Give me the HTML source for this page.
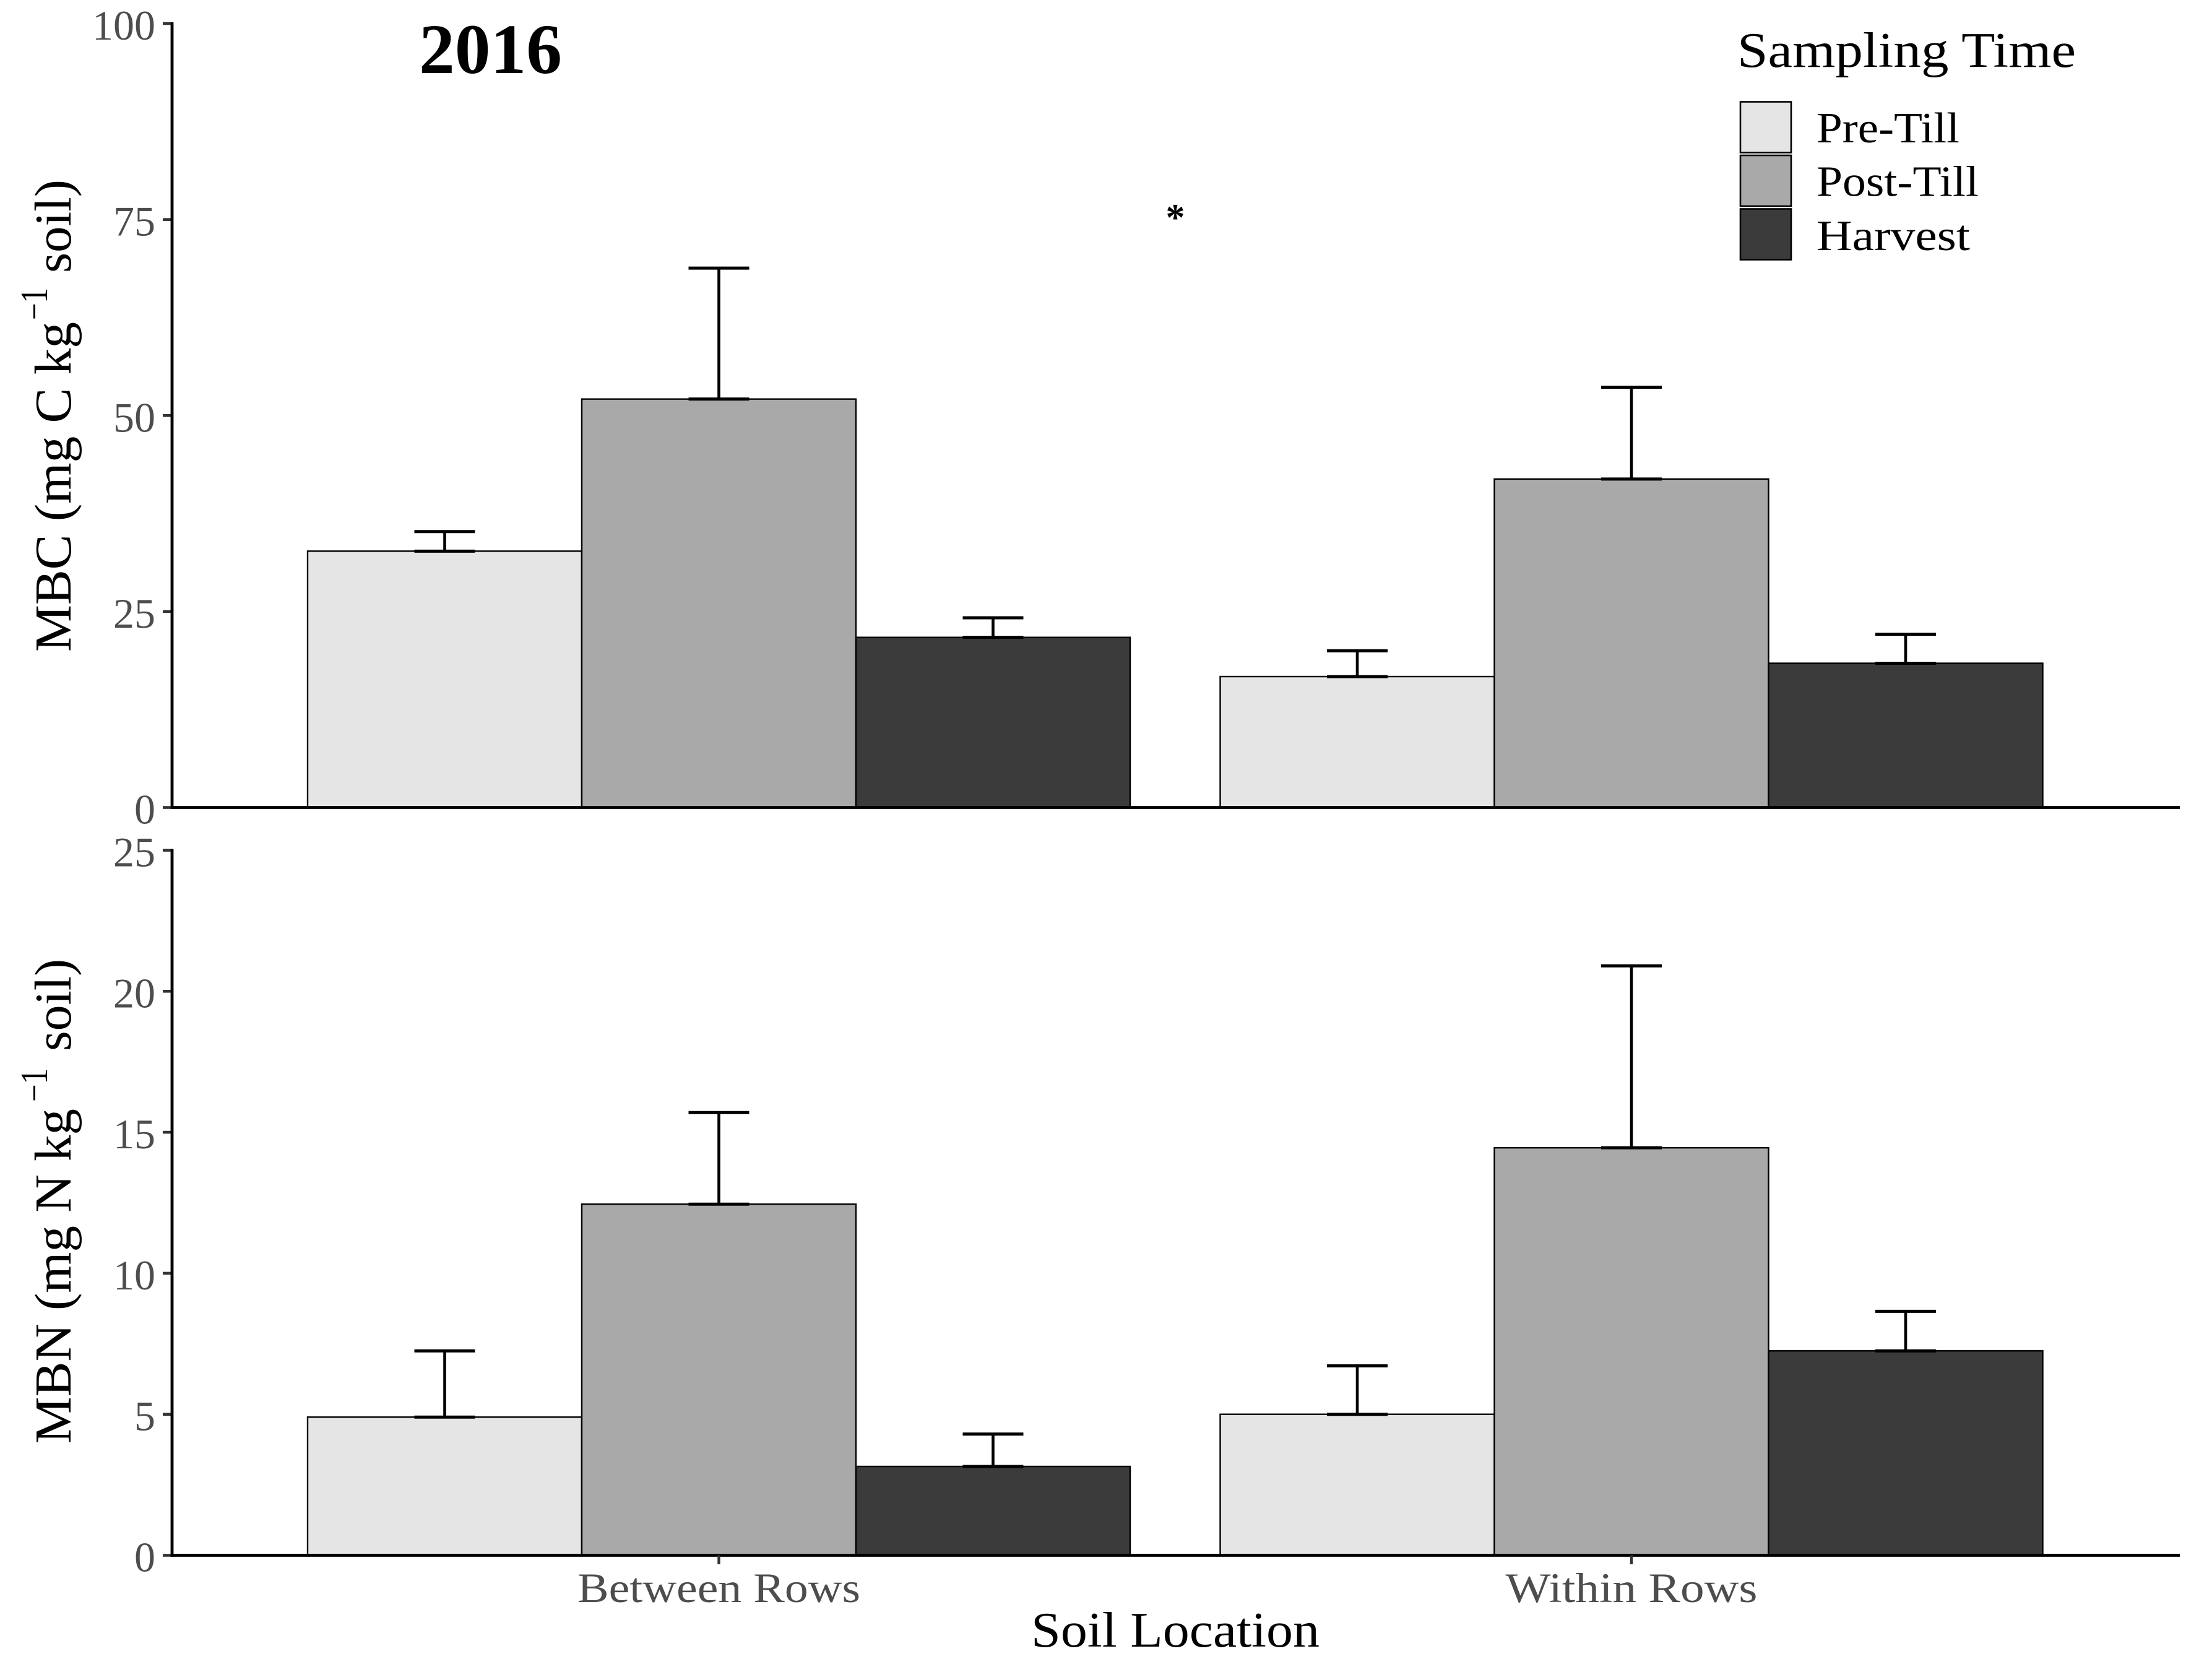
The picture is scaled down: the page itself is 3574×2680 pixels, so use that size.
<!DOCTYPE html>
<html>
<head>
<meta charset="utf-8">
<title>2016 MBC and MBN by soil location</title>
<style>
html,body{margin:0;padding:0;background:#fff;width:3574px;height:2680px;overflow:hidden}
svg{display:block}
text{font-family:"Liberation Serif",serif}
.tick{fill:#4d4d4d;font-size:68px}
.ttl{fill:#000;font-size:80px}
.ytl{fill:#000;font-size:84px}
.leg{fill:#000;font-size:70px}
</style>
</head>
<body>
<svg id="chart" xmlns="http://www.w3.org/2000/svg" width="3574" height="2680" viewBox="0 0 3574 2680">
<rect x="0" y="0" width="3574" height="2680" fill="#ffffff"/>
<g id="marks"></g>
<text x="677" y="118" font-size="114" font-weight="bold" fill="#000" textLength="231" lengthAdjust="spacingAndGlyphs">2016</text>
<text x="1899" y="372" font-size="62" font-weight="bold" fill="#000" text-anchor="middle">*</text>

<g>
<text class="ytl" transform="translate(114 1053) rotate(-90)" textLength="533" lengthAdjust="spacingAndGlyphs">MBC (mg C kg</text>
<text transform="translate(76 517) rotate(-90)" font-size="62" fill="#000" textLength="52" lengthAdjust="spacingAndGlyphs">−1</text>
<text class="ytl" transform="translate(114 441) rotate(-90)" textLength="151" lengthAdjust="spacingAndGlyphs">soil)</text>
</g>
<g>
<text class="ytl" transform="translate(114 2332) rotate(-90)" textLength="541" lengthAdjust="spacingAndGlyphs">MBN (mg N kg</text>
<text transform="translate(76 1780) rotate(-90)" font-size="62" fill="#000" textLength="54" lengthAdjust="spacingAndGlyphs">−1</text>
<text class="ytl" transform="translate(114 1698) rotate(-90)" textLength="149" lengthAdjust="spacingAndGlyphs">soil)</text>
</g>
<text class="ttl" x="1666" y="2660" textLength="466" lengthAdjust="spacingAndGlyphs">Soil Location</text>

<g>
<text class="ttl" x="2807" y="108" textLength="547" lengthAdjust="spacingAndGlyphs">Sampling Time</text>
<rect x="2812" y="164.5" width="82" height="82" fill="#e5e5e5" stroke="#000" stroke-width="2.6"/>
<text class="leg" x="2935" y="230" textLength="231" lengthAdjust="spacingAndGlyphs">Pre-Till</text>
<rect x="2812" y="251" width="82" height="82" fill="#a9a9a9" stroke="#000" stroke-width="2.6"/>
<text class="leg" x="2935" y="316.5" textLength="262" lengthAdjust="spacingAndGlyphs">Post-Till</text>
<rect x="2812" y="337.5" width="82" height="82" fill="#3b3b3b" stroke="#000" stroke-width="2.6"/>
<text class="leg" x="2935" y="404" textLength="248" lengthAdjust="spacingAndGlyphs">Harvest</text>
</g>
</svg>
<script>
var categories = ["Between Rows", "Within Rows"];
var seriesNames = ["Pre-Till", "Post-Till", "Harvest"];
var mbcMean = [[32.7, 52.1, 21.7], [16.7, 41.9, 18.4]];
var mbcUpper = [[35.2, 68.8, 24.2], [20.0, 53.6, 22.1]];
var mbnMean = [[4.9, 12.45, 3.15], [5.0, 14.45, 7.25]];
var mbnUpper = [[7.25, 15.7, 4.3], [6.72, 20.9, 8.65]];
var mbcTicks = [0, 25, 50, 75, 100];
var mbnTicks = [0, 5, 10, 15, 20, 25];

var NS = "http://www.w3.org/2000/svg";
var root = document.getElementById("marks");
var fills = ["#e5e5e5", "#a9a9a9", "#3b3b3b"];
var axisLeft = 278, axisRight = 3522;
var mbcPanel = {top: 38, bottom: 1304.5, max: 100};
var mbnPanel = {top: 1373.5, bottom: 2512.5, max: 25};
var barWidth = 443;

function slug(s) { return s.toLowerCase().replace(/\s+/g, "-"); }
function yScale(panel, v) { return panel.bottom - (panel.bottom - panel.top) * v / panel.max; }
function groupCenter(i) { return 1161.5 + i * 1474.5; }
function barLeft(i, j) { return groupCenter(i) + (j - 1.5) * barWidth; }
function make(tag, attrs) {
  var el = document.createElementNS(NS, tag);
  for (var k in attrs) el.setAttribute(k, attrs[k]);
  root.appendChild(el);
  return el;
}
function line(x1, y1, x2, y2, color, w) {
  return make("line", {x1: x1, y1: y1, x2: x2, y2: y2, stroke: color, "stroke-width": w});
}

function drawPanel(panel, key, means, uppers, ticks) {
  categories.forEach(function (cat, i) {
    seriesNames.forEach(function (ser, j) {
      var x = barLeft(i, j);
      var top = yScale(panel, means[i][j]);
      var bar = make("rect", {x: x, y: top, width: barWidth, height: panel.bottom - top, fill: fills[j], stroke: "#000", "stroke-width": 2.4});
      
      
    });
  });
  categories.forEach(function (cat, i) {
    seriesNames.forEach(function (ser, j) {
      var cx = barLeft(i, j) + barWidth / 2;
      var y0 = yScale(panel, means[i][j]);
      var y1 = yScale(panel, uppers[i][j]);
      var stem = line(cx, y0, cx, y1, "#000", 4.6);
      
      
      var capTop = line(cx - 49, y1, cx + 49, y1, "#000", 5);
      
      
      var capLow = line(cx - 49, y0, cx + 49, y0, "#000", 5);
      
      
    });
  });
  ticks.forEach(function (t) {
    var y = yScale(panel, t);
    var mark = line(263, y, axisLeft, y, "#333333", 4.6);
    
    
    var label = make("text", {x: 251, y: y + 26, "text-anchor": "end", "class": "tick"});
    label.textContent = String(t);
    
    
  });
  var yAxis = line(axisLeft, panel.top - 2, axisLeft, panel.bottom + 2.4, "#000", 4.8);
  
  
  var xAxis = line(axisLeft, panel.bottom, axisRight, panel.bottom, "#000", 4.8);
  
  
}

drawPanel(mbcPanel, "mbc", mbcMean, mbcUpper, mbcTicks);
drawPanel(mbnPanel, "mbn", mbnMean, mbnUpper, mbnTicks);

categories.forEach(function (cat, i) {
  var cx = groupCenter(i);
  var tick = line(cx, mbnPanel.bottom, cx, 2527, "#333333", 4.4);
  
  
  var label = make("text", {x: cx, y: 2588, "text-anchor": "middle", "class": "tick"});
  label.textContent = cat;
  label.setAttribute("textLength", i === 0 ? 457 : 407);
  label.setAttribute("lengthAdjust", "spacingAndGlyphs");
  
  
});
</script>
</body>
</html>
